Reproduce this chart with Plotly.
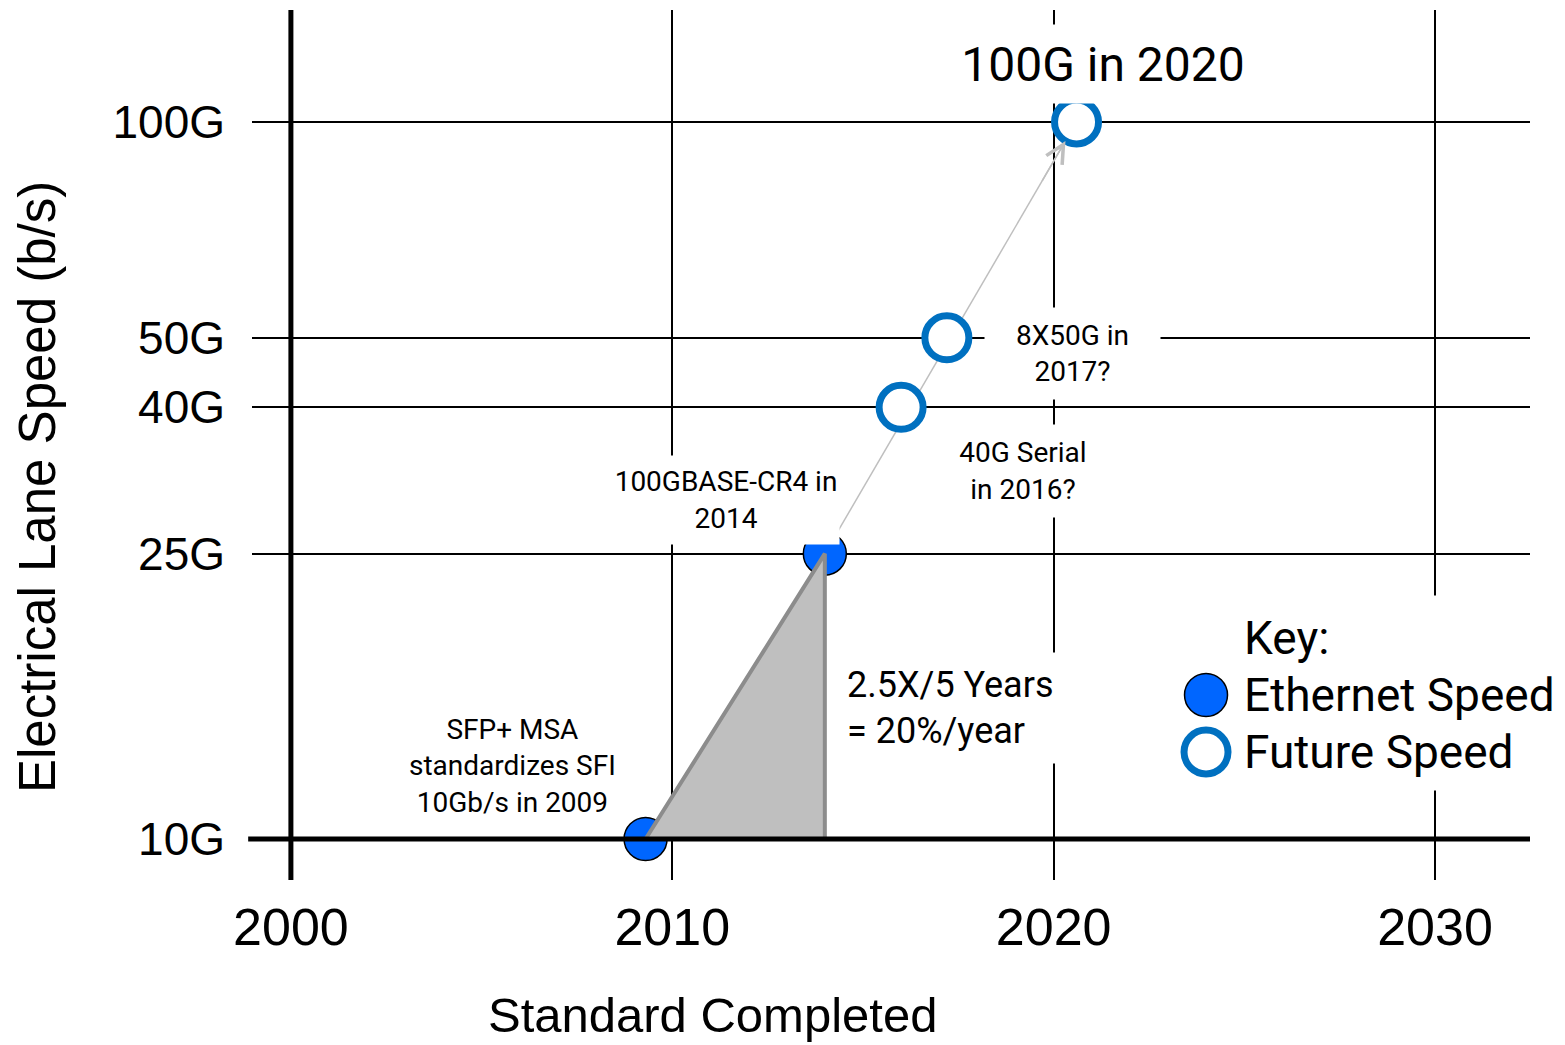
import numpy as np
import plotly.graph_objects as go

# ---- data -------------------------------------------------------------
eth_years = [2009.3, 2014.0]          # shipped Ethernet lane speeds
eth_speeds = [10, 25]
future_years = [2016.0, 2017.2, 2020.6]   # projected lane speeds
future_speeds = [40, 50, 100]

x_ticks = [2000, 2010, 2020, 2030]
y_ticks = [10, 25, 40, 50, 100]
y_tick_text = ["10G", "25G", "40G", "50G", "100G"]

# ---- layout / styles --------------------------------------------------
W, H = 1565, 1045
MARGIN = dict(l=252, r=35, t=10, b=165)
X_RANGE = [1998.98, 2032.49]
Y_RANGE = [0.9428, 2.1562]            # log10 units

TICK_FONT = "Liberation Sans, Arial, sans-serif"
NOTE_FONT = "Roboto, Liberation Sans, sans-serif"
ETH_BLUE = "#0066FF"
FUTURE_BLUE = "#0070C0"
TRI_FILL = "#BFBFBF"
TRI_EDGE = "#8C8C8C"
TREND = "#BFBFBF"

fig = go.Figure()

# trend line from the last shipped speed to the 2020 target (under the markers)
fig.add_trace(go.Scatter(
    x=[eth_years[-1], future_years[-1]], y=[eth_speeds[-1], future_speeds[-1]],
    mode="lines", line=dict(color=TREND, width=1.5), hoverinfo="skip"))

fig.add_trace(go.Scatter(
    x=eth_years, y=eth_speeds, mode="markers", name="Ethernet Speed",
    marker=dict(size=43, color=ETH_BLUE, line=dict(color="black", width=1.5))))

fig.add_trace(go.Scatter(
    x=future_years, y=future_speeds, mode="markers", name="Future Speed",
    marker=dict(size=44, color="white", line=dict(color=FUTURE_BLUE, width=7))))

# growth-rate triangle between the two shipped speeds
fig.add_trace(go.Scatter(
    x=[eth_years[0], eth_years[1], eth_years[1], eth_years[0]],
    y=[eth_speeds[0], eth_speeds[1], eth_speeds[0], eth_speeds[0]],
    mode="lines", fill="toself", fillcolor=TRI_FILL,
    line=dict(color=TRI_EDGE, width=4), hoverinfo="skip"))

shapes = [
    # heavy baseline at 10G and heavy vertical at 2000
    dict(type="line", xref="paper", x0=-0.003, x1=1, yref="y",
         y0=eth_speeds[0], y1=eth_speeds[0], line=dict(color="black", width=5)),
    dict(type="line", xref="x", x0=x_ticks[0], x1=x_ticks[0], yref="paper",
         y0=0, y1=1, line=dict(color="black", width=5)),
    # key panel background
    dict(type="rect", xref="paper", yref="paper", x0=0.715, x1=1.03,
         y0=0.103, y1=0.327, fillcolor="white", line=dict(width=0), layer="above"),
    dict(type="circle", xref="paper", yref="paper", xsizemode="pixel", ysizemode="pixel",
         xanchor=0.7465, yanchor=0.2126, x0=-21.5, x1=21.5, y0=-21.5, y1=21.5,
         fillcolor=ETH_BLUE, line=dict(color="black", width=1.5), layer="above"),
    dict(type="circle", xref="paper", yref="paper", xsizemode="pixel", ysizemode="pixel",
         xanchor=0.7465, yanchor=0.1471, x0=-22, x1=22, y0=-22, y1=22,
         fillcolor="white", line=dict(color=FUTURE_BLUE, width=7), layer="above"),
]

# on-screen direction of the trend line, used to orient the arrowhead
plot_w = W - MARGIN["l"] - MARGIN["r"]
plot_h = H - MARGIN["t"] - MARGIN["b"]
dx_px = (future_years[-1] - eth_years[-1]) * plot_w / (X_RANGE[1] - X_RANGE[0])
dy_px = np.log10(future_speeds[-1] / eth_speeds[-1]) * plot_h / (Y_RANGE[1] - Y_RANGE[0])
norm = np.hypot(dx_px, dy_px)
ARROW_LEN = 70


def note(text, x, y, size, width=None, height=None, align="center", xanchor="center"):
    return dict(text=text, xref="paper", yref="paper", x=x, y=y,
                xanchor=xanchor, yanchor="middle", showarrow=False,
                font=dict(family=NOTE_FONT, size=size, color="black"),
                bgcolor="white", borderpad=0, align=align,
                width=width, height=height)


def key_text(text, y):
    return dict(text=text, xref="paper", yref="paper", x=0.7745, y=y,
                xanchor="left", yanchor="middle", showarrow=False,
                font=dict(family=NOTE_FONT, size=46, color="black"))


annotations = [
    note("100G in 2020", 0.6659, 0.9379, 48, width=300, height=78),
    note("8X50G in<br>2017?", 0.6424, 0.6057, 28, width=175, height=91),
    note("40G Serial<br>in 2016?", 0.6033, 0.4701, 28, width=150, height=92),
    note("100GBASE-CR4 in<br>2014", 0.3709, 0.4368, 28, width=226, height=88),
    note("SFP+ MSA<br>standardizes SFI<br>10Gb/s in 2009", 0.2042, 0.1310, 28),
    note("2.5X/5 Years<br>= 20%/year", 0.4648, 0.1977, 36, width=222, height=110,
         align="left", xanchor="left"),
    key_text("Key:", 0.2782),
    key_text("Ethernet Speed", 0.2126),
    key_text("Future Speed", 0.1471),
    # axis titles
    dict(text="Standard Completed", xref="paper", yref="paper", x=0.3607, y=-0.1555,
         xanchor="center", yanchor="middle", showarrow=False,
         font=dict(family=TICK_FONT, size=49, color="black")),
    dict(text="Electrical Lane Speed (b/s)", xref="paper", yref="paper", x=-0.1682, y=0.4517,
         xanchor="center", yanchor="middle", showarrow=False, textangle=-90,
         font=dict(family=TICK_FONT, size=51, color="black")),
    # arrowhead at the end of the trend line, pointing at the 2020 target
    dict(text="", x=future_years[-1], y=np.log10(future_speeds[-1]), xref="x", yref="y",
         ax=-dx_px / norm * ARROW_LEN, ay=dy_px / norm * ARROW_LEN,
         showarrow=True, arrowhead=5, arrowsize=2.4, arrowwidth=1.5,
         arrowcolor=TREND, standoff=22),
]

fig.update_layout(
    width=W, height=H, margin=MARGIN,
    plot_bgcolor="white", paper_bgcolor="white",
    showlegend=False,
    shapes=shapes, annotations=annotations,
    xaxis=dict(range=X_RANGE, tickvals=x_ticks, ticks="",
               showgrid=True, gridcolor="black", gridwidth=1.5,
               zeroline=False, showline=False, ticklabelstandoff=12,
               tickfont=dict(family=TICK_FONT, size=52, color="black")),
    yaxis=dict(type="log", range=Y_RANGE, tickvals=y_ticks, ticktext=y_tick_text,
               ticks="", showgrid=True, gridcolor="black", gridwidth=1.5,
               zeroline=False, showline=False, ticklabelstandoff=26,
               tickfont=dict(family=TICK_FONT, size=46, color="black")),
)

fig.write_html("out.html")
